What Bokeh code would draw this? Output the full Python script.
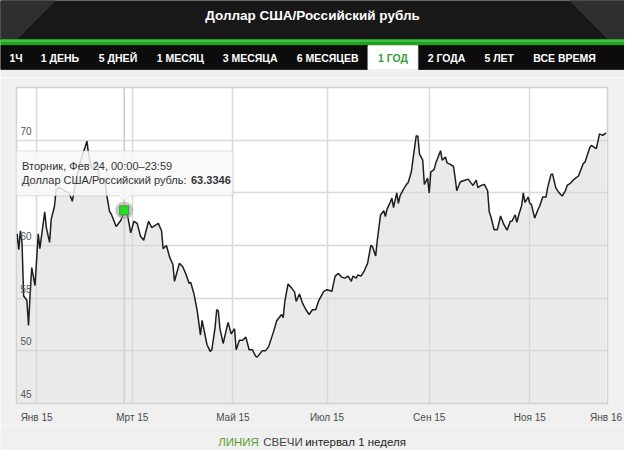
from bokeh.plotting import figure
from bokeh.layouts import column
from bokeh.models import Range1d, FixedTicker, Span, PolyAnnotation, Label
from bokeh.core.properties import value
from bokeh.embed import file_html
from bokeh.resources import INLINE

# ---------------- data ----------------
title_text = "Доллар США/Российский рубль"
tabs = ["1Ч", "1 ДЕНЬ", "5 ДНЕЙ", "1 МЕСЯЦ", "3 МЕСЯЦА", "6 МЕСЯЦЕВ",
        "1 ГОД", "2 ГОДА", "5 ЛЕТ", "ВСЕ ВРЕМЯ"]
active_tab = "1 ГОД"

# day offset from 2015-01-01
day_of_2015 = [-12, -11, -10, -9, -8, -6, -5, -4, -3, -1, 1, 2, 5, 6, 8, 9, 11, 12, 14, 17,
               20, 22, 24, 27, 30, 31, 32, 34, 37, 39, 42, 43, 45, 46, 49, 50, 52, 54, 56, 58,
               60, 62, 64, 66, 69, 71, 75, 77, 78, 80, 82, 84, 85, 88, 90, 92, 94, 95, 97, 99,
               101, 102, 105, 107, 108, 110, 111, 112, 113, 115, 118, 120, 122, 123, 125, 127,
               129, 131, 133, 135, 136, 139, 141, 143, 146, 148, 151, 152, 153, 155, 157, 159,
               160, 162, 164, 166, 168, 170, 172, 174, 177, 179, 182, 184, 186, 188, 190, 192,
               194, 195, 197, 198, 200, 202, 204, 206, 207, 209, 210, 212, 214, 215, 216, 218,
               219, 220, 222, 223, 224, 226, 228, 229, 231, 232, 234, 235, 236, 238, 239, 241,
               242, 243, 245, 246, 249, 250, 252, 253, 255, 257, 258, 259, 261, 262, 264, 266,
               268, 269, 271, 272, 274, 276, 278, 279, 280, 282, 284, 286, 288, 290, 292, 293,
               295, 296, 297, 299, 300, 301, 303, 304, 305, 307, 309, 310, 312, 314, 315, 317,
               318, 320, 322, 324, 326, 327, 329, 331, 334, 337, 338, 341, 342, 345, 347, 349,
               351]
usd_rub = [61.1, 59.6, 61.4, 60.3, 55.2, 54.8, 52.4, 55.4, 57.9, 56.2, 61.1, 59.7, 63.2, 61.7,
           60.3, 62.5, 63.7, 65.3, 65.5, 65.2, 65.0, 64.2, 66.0, 68.0, 69.4, 69.9, 68.7, 67.3,
           68.0, 66.2, 66.4, 65.0, 63.2, 63.0, 61.8, 62.0, 62.4, 63.3346, 62.9, 61.2, 62.3, 62.1,
           60.9, 60.5, 62.3, 61.7, 62.1, 61.4, 59.7, 60.0, 58.9, 58.2, 56.6, 58.3, 58.0, 57.3,
           56.4, 56.5, 55.4, 53.8, 51.5, 52.9, 50.6, 49.95, 50.1, 52.2, 53.9, 53.8, 52.1, 50.7,
           52.7, 51.6, 52.1, 50.1, 51.0, 51.0, 51.3, 50.1, 50.1, 49.5, 49.4, 50.0, 50.0, 50.4,
           51.8, 52.85, 53.45, 53.15, 54.7, 56.35, 56.0, 55.6, 54.7, 55.4, 54.5, 53.9, 53.45,
           53.9, 53.9, 54.8, 55.65, 55.8, 55.65, 57.1, 57.35, 57.0, 56.9, 57.1, 56.6, 57.1, 56.9,
           57.2, 57.1, 57.6, 58.3, 60.0, 59.9, 59.0, 60.5, 62.9, 63.3, 62.75, 63.45, 64.1, 64.5,
           63.6, 65.0, 64.0, 64.7, 65.3, 65.8, 65.95, 67.0, 68.2, 70.4, 70.4, 68.7, 68.1, 65.8,
           66.4, 65.0, 67.0, 67.2, 67.8, 69.0, 68.1, 68.4, 67.85, 67.7, 67.5, 66.4, 65.2, 66.0,
           66.1, 66.2, 66.3, 65.9, 65.7, 66.2, 65.5, 65.7, 65.8, 65.2, 63.2, 62.75, 61.5, 61.5,
           62.8, 62.0, 61.45, 62.3, 62.3, 62.9, 62.2, 62.8, 63.8, 65.0, 64.1, 64.6, 64.0, 63.9,
           62.6, 63.4, 63.7, 64.6, 64.6, 65.5, 66.7, 66.8, 65.5, 65.0, 64.7, 65.2, 65.7, 65.9,
           66.25, 66.6, 67.8, 67.9, 69.3, 69.5, 69.2, 70.6, 70.45, 70.7]

x_tick_days = [0, 59, 121, 179, 242, 304, 351]
x_tick_labels = ["Янв 15", "Мрт 15", "Май 15", "Июл 15", "Сен 15", "Ноя 15", "Янв 16"]
y_ticks = [45, 50, 55, 60, 65, 70]

hover_day = 54
hover_value = 63.3346
hover_date_text = "Вторник, Фев 24, 00:00–23:59"
series_name = "Доллар США/Российский рубль"

footer_items = ["ЛИНИЯ", "СВЕЧИ", "интервал 1 неделя"]

# ---------------- common ----------------
W = 624
FONT = "Liberation Sans"
PAGE_BG = "#f0f0f0"

def bare(height, yr):
    f = figure(width=W, height=height, x_range=Range1d(0, 640), y_range=yr,
               output_backend="svg", toolbar_location=None,
               x_axis_location=None, y_axis_location=None,
               min_border=0, outline_line_color=None, frame_align=False,
               background_fill_color=PAGE_BG, border_fill_color=PAGE_BG)
    f.grid.visible = False
    return f

# ---------------- header ----------------
hdr = bare(77, Range1d(80, 0))
hdr.quad(left=0, right=640, top=0, bottom=41, color="#181818")
hdr.patch([0, 56, 16, 0], [0, 0, 41, 41], color="#363636", alpha=0.8)
hdr.patch([640, 584, 624, 640], [0, 0, 41, 41], color="#363636", alpha=0.8)
hdr.quad(left=0, right=640, top=41, bottom=47, color="#22a022")
hdr.quad(left=0, right=640, top=41, bottom=42.5, color="#3cc43c")
hdr.quad(left=0, right=640, top=47, bottom=71.5, color="#0c0c0c")
hdr.quad(left=377, right=428, top=47, bottom=72, color="#ffffff")

hdr.text(x=[320], y=[15.5], text=[title_text], text_color="white",
         text_font=value(FONT), text_font_style="bold", text_font_size="13.5px",
         text_align="center", text_baseline="middle")

tab_centers = [16, 61, 120.5, 184.5, 256, 335.5, 402.5, 457.5, 511.5, 578.5]
tab_colors = ["#3a9c3a" if t == active_tab else "white" for t in tabs]
hdr.text(x=tab_centers, y=[59.5] * len(tabs), text=tabs, text_color=tab_colors,
         text_font=value(FONT), text_font_style="bold", text_font_size="10.5px",
         text_align="center", text_baseline="middle")

# ---------------- main chart ----------------
p = figure(width=W, height=348, x_range=Range1d(-12.4, 351.9), y_range=Range1d(45, 75),
           output_backend="svg", toolbar_location=None, y_axis_location=None,
           min_border_left=16, min_border_right=17, min_border_top=10, min_border_bottom=22,
           frame_align=False,
           background_fill_color="white", border_fill_color=PAGE_BG,
           outline_line_color="#d2d2d2", outline_line_width=1.5)

p.xaxis.ticker = FixedTicker(ticks=x_tick_days)
p.xaxis.major_label_overrides = dict(zip(x_tick_days, x_tick_labels))
p.xaxis.axis_line_color = None
p.xaxis.major_tick_line_color = None
p.xaxis.minor_tick_line_color = None
p.xaxis.major_tick_out = 0
p.xaxis.major_tick_in = 0
p.xaxis.minor_tick_out = 0
p.xaxis.major_label_standoff = 8
p.xaxis.major_label_text_font = FONT
p.xaxis.major_label_text_font_size = "10px"
p.xaxis.major_label_text_color = "#4a4a4a"

p.xgrid.ticker = FixedTicker(ticks=x_tick_days[:-1])
p.ygrid.ticker = FixedTicker(ticks=y_ticks + [75])
p.grid.grid_line_color = "#d9d9d9"
p.grid.grid_line_width = 1.5

p.add_layout(Span(location=hover_day, dimension="height", line_color="#cccccc",
                  line_width=1.5, level="underlay"))

p.varea(x=day_of_2015, y1=45, y2=usd_rub, fill_color="#d6d6d6", fill_alpha=0.5)
p.line(day_of_2015, usd_rub, line_color="#1e1e1e", line_width=1.5)

p.text(x=[-12.4] * len(y_ticks), y=y_ticks, text=[str(t) for t in y_ticks],
       x_offset=4, y_offset=-9.5, text_align="left", text_baseline="middle",
       text_font=value(FONT), text_font_size="10px", text_color="#555555")

# hover marker
p.scatter([hover_day], [hover_value], size=18, fill_color="#9a9a9a", fill_alpha=0.55,
          line_color=None)
p.scatter([hover_day], [hover_value], marker="square", size=9, fill_color="#22e022",
          line_color="#3f8f3f", line_width=1)

# tooltip (frame-relative screen units)
p.add_layout(PolyAnnotation(
    xs=[-2, 216.5, 216.5, 112.7, 107.7, 102.7, -2],
    ys=[252.6, 252.6, 207.7, 207.7, 202.4, 207.7, 207.7],
    xs_units="screen", ys_units="screen",
    fill_color="#f8f8f8", fill_alpha=0.85, line_color="#9a9a9a", line_width=1))
p.add_layout(Label(x=5.5, y=237.6, x_units="screen", y_units="screen", text=hover_date_text,
                   text_font=FONT, text_font_size="11px", text_color="#333333",
                   text_baseline="middle"))
p.add_layout(Label(x=5.5, y=223.6, x_units="screen", y_units="screen", text=series_name + ":",
                   text_font=FONT, text_font_size="11px", text_color="#333333",
                   text_baseline="middle"))
p.add_layout(Label(x=174.5, y=223.6, x_units="screen", y_units="screen",
                   text=f"{hover_value:.4f}", text_font=FONT, text_font_size="11px",
                   text_font_style="bold", text_color="#333333", text_baseline="middle"))

# ---------------- footer ----------------
ftr = bare(25, Range1d(466, 440))
ftr.text(x=[223.3], y=[457], text=[footer_items[0]], text_color="#5a9e32",
         text_font=value(FONT), text_font_size="11.5px",
         text_align="left", text_baseline="middle")
ftr.text(x=[310], y=[457], text=[footer_items[1]], text_color="#444444",
         text_font=value(FONT), text_font_size="11.5px",
         text_align="right", text_baseline="middle")
ftr.text(x=[312.5], y=[457], text=[footer_items[2]], text_color="#222222",
         text_font=value(FONT), text_font_size="11.5px",
         text_align="left", text_baseline="middle")

layout = column(hdr, p, ftr, spacing=0)
open("out.html", "w").write(file_html(layout, INLINE))
